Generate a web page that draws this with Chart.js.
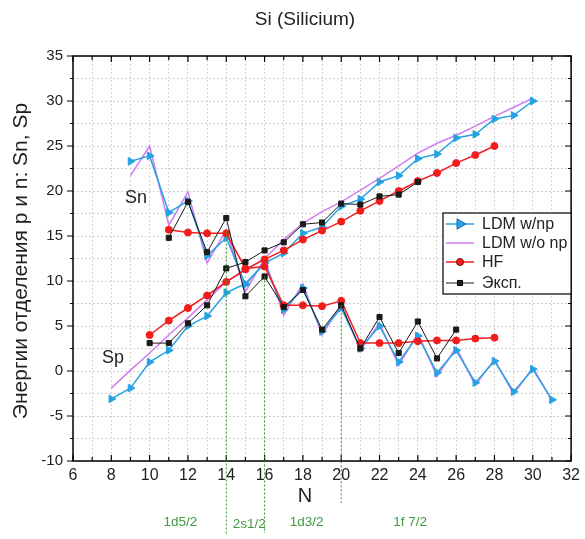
<!DOCTYPE html>
<html>
<head>
<meta charset="utf-8">
<script src="https://cdn.jsdelivr.net/npm/chart.js@4.4.1/dist/chart.umd.min.js"></script>
<style>
  body { margin: 0; background: #fff; }
  #wrap { width: 585px; height: 539px; }
</style>
</head>
<body>
<div id="wrap"><canvas id="myChart" width="585" height="539"></canvas></div>
<script>
// neutron numbers and separation energies
const ldmNpSnN = [9, 10, 11, 12, 13, 14, 15, 16, 17, 18, 19, 20, 21, 22, 23, 24, 25, 26, 27, 28, 29, 30, 31];
const ldmNpSn = [23.3, 23.9, 17.6, 18.9, 12.8, 14.8, 9.6, 12.0, 6.8, 9.2, 4.4, 7.0, 2.5, 5.0, 1.0, 3.9, -0.2, 2.3, -1.3, 1.1, -2.3, 0.2, -3.2];
const ldmNpSpN = [8, 9, 10, 11, 12, 13, 14, 15, 16, 17, 18, 19, 20, 21, 22, 23, 24, 25, 26, 27, 28, 29, 30];
const ldmNpSp = [-3.1, -1.9, 1.0, 2.3, 5.0, 6.1, 8.7, 9.7, 12.0, 13.1, 15.3, 16.0, 18.3, 19.1, 21.0, 21.7, 23.6, 24.1, 25.9, 26.3, 28.0, 28.4, 30.0];

const ldmSnN = [9, 10, 11, 12, 13, 14, 15, 16, 17, 18, 19, 20, 21, 22, 23, 24, 25, 26, 27, 28, 29, 30, 31];
const ldmSn = [21.7, 25.0, 16.2, 19.9, 12.0, 15.7, 8.8, 12.5, 6.2, 9.7, 4.0, 7.4, 2.3, 5.3, 0.6, 4.2, -0.6, 2.6, -1.6, 1.3, -2.6, 0.4, -3.3];
const ldmSpN = [8, 9, 10, 11, 12, 13, 14, 15, 16, 17, 18, 19, 20, 21, 22, 23, 24, 25, 26, 27, 28, 29, 30];
const ldmSp = [-1.9, 0.1, 2.0, 4.0, 5.9, 7.9, 9.9, 11.2, 12.5, 14.6, 16.4, 17.7, 18.8, 20.1, 21.4, 22.8, 24.2, 25.3, 26.2, 27.2, 28.3, 29.3, 30.3];

const hfSnN = [11, 12, 13, 14, 15, 16, 17, 18, 19, 20, 21, 22, 23, 24, 25, 26, 27, 28];
const hfSn = [15.7, 15.4, 15.3, 15.3, 11.4, 11.6, 7.3, 7.3, 7.2, 7.8, 3.1, 3.1, 3.1, 3.3, 3.4, 3.4, 3.6, 3.7];
const hfSpN = [10, 11, 12, 13, 14, 15, 16, 17, 18, 19, 20, 21, 22, 23, 24, 25, 26, 27, 28];
const hfSp = [4.0, 5.6, 7.0, 8.4, 9.9, 11.3, 12.4, 13.4, 14.6, 15.6, 16.6, 17.8, 18.9, 20.0, 21.1, 22.0, 23.1, 24.0, 25.0];

const expSnN = [11, 12, 13, 14, 15, 16, 17, 18, 19, 20, 21, 22, 23, 24, 25, 26];
const expSn = [14.8, 18.8, 13.2, 17.0, 8.3, 10.5, 7.1, 9.0, 4.6, 7.3, 2.5, 6.0, 2.0, 5.5, 1.4, 4.6];
const expSpN = [10, 11, 12, 13, 14, 15, 16, 17, 18, 19, 20, 21, 22, 23, 24];
const expSp = [3.1, 3.1, 5.3, 7.3, 11.4, 12.1, 13.4, 14.3, 16.3, 16.5, 18.6, 18.5, 19.4, 19.6, 21.0];

// shell closures (green dotted markers) and their labels
const shellN = [14, 16, 20];
const shellTop = [15.5, 10.5, 7.3];
const shellLabels = ['1d5/2', '2s1/2', '1d3/2', '1f 7/2'];
const shellLabelN = [11.6, 15.2, 18.2, 23.6];

const FONT = '"Liberation Sans", Arial, sans-serif';
const BLUE = '#27a2e2';
const VIOLET = '#d37cf2';
const RED = '#f21c1c';
const BLACK = '#1a1a1a';

function toPoints(ns, vals) {
  return ns.map((n, i) => ({ x: n, y: vals[i] }));
}

function ldmNpSet(ns, vals, legend) {
  return {
    label: 'LDM w/np', legend: legend, data: toPoints(ns, vals),
    borderColor: BLUE, backgroundColor: BLUE, borderWidth: 1.5,
    pointStyle: 'triangle', rotation: 90, pointRadius: 4.5, pointBorderWidth: 1
  };
}
function ldmSet(ns, vals, legend) {
  return {
    label: 'LDM w/o np', legend: legend, data: toPoints(ns, vals),
    borderColor: VIOLET, backgroundColor: VIOLET, borderWidth: 1.5, pointRadius: 0
  };
}
function hfSet(ns, vals, legend) {
  return {
    label: 'HF', legend: legend, data: toPoints(ns, vals),
    borderColor: RED, backgroundColor: RED, borderWidth: 1.5,
    pointStyle: 'circle', pointRadius: 3.5, pointBorderWidth: 1
  };
}
function expSet(ns, vals, legend) {
  return {
    label: 'Эксп.', legend: legend, data: toPoints(ns, vals),
    borderColor: BLACK, backgroundColor: BLACK, borderWidth: 1,
    pointStyle: 'rect', pointRadius: 3.6, pointBorderWidth: 1
  };
}

const datasets = [
  expSet(expSnN, expSn, true), expSet(expSpN, expSp, false),
  hfSet(hfSnN, hfSn, true), hfSet(hfSpN, hfSp, false),
  ldmNpSet(ldmNpSnN, ldmNpSn, true), ldmNpSet(ldmNpSpN, ldmNpSp, false),
  ldmSet(ldmSnN, ldmSn, true), ldmSet(ldmSpN, ldmSp, false)
];
const legendOrder = ['LDM w/np', 'LDM w/o np', 'HF', 'Эксп.'];

// frame, ticks, annotations, legend
const decor = {
  id: 'decor',
  afterDraw(chart) {
    const ctx = chart.ctx;
    const a = chart.chartArea;
    const xs = chart.scales.x;
    const ys = chart.scales.y;
    ctx.save();

    // ticks
    ctx.strokeStyle = '#000';
    ctx.lineWidth = 1.2;
    for (let n = 6; n <= 32; n++) {
      const x = xs.getPixelForValue(n);
      const len = n % 2 === 0 ? 6 : 4;
      ctx.beginPath();
      ctx.moveTo(x, a.top); ctx.lineTo(x, a.top + len);
      ctx.moveTo(x, a.bottom); ctx.lineTo(x, a.bottom - len);
      ctx.stroke();
    }
    for (let v = -10; v <= 35; v += 2.5) {
      const y = ys.getPixelForValue(v);
      const len = v % 5 === 0 ? 6 : 3;
      ctx.beginPath();
      ctx.moveTo(a.left, y); ctx.lineTo(a.left - len, y);
      ctx.moveTo(a.right, y); ctx.lineTo(a.right - len, y);
      ctx.stroke();
    }
    ctx.lineWidth = 1.5;
    ctx.strokeRect(a.left, a.top, a.right - a.left, a.bottom - a.top);

    // shell closure lines
    ctx.strokeStyle = '#2e9a2e';
    ctx.lineWidth = 1;
    ctx.setLineDash([2, 2]);
    const ends = [535, 533, 503];
    shellN.forEach((n, i) => {
      const x = xs.getPixelForValue(n);
      ctx.beginPath();
      ctx.moveTo(x, ys.getPixelForValue(shellTop[i]));
      ctx.lineTo(x, ends[i]);
      ctx.stroke();
    });
    ctx.setLineDash([]);

    ctx.fillStyle = '#3f9a3f';
    ctx.font = '13.5px ' + FONT;
    ctx.textAlign = 'center';
    ctx.textBaseline = 'middle';
    shellLabels.forEach((t, i) => {
      ctx.fillText(t, xs.getPixelForValue(shellLabelN[i]), i === 1 ? 524 : 522);
    });

    // titles
    ctx.fillStyle = '#222';
    ctx.font = '19px ' + FONT;
    ctx.fillText('Si (Silicium)', 305, 20);
    ctx.font = '20px ' + FONT;
    ctx.fillText('N', 305, 496);
    ctx.font = '18px ' + FONT;
    ctx.fillText('Sn', 136, 198);
    ctx.fillText('Sp', 113, 358);
    ctx.save();
    ctx.translate(21, 261);
    ctx.rotate(-Math.PI / 2);
    ctx.font = '21px ' + FONT;
    ctx.fillText('Энергии отделения p и n: Sn, Sp', 0, 0);
    ctx.restore();

    // legend
    const lx = 443, ly = 213, lw = a.right - 443, lh = 81;
    ctx.fillStyle = '#fff';
    ctx.fillRect(lx, ly, lw, lh);
    ctx.strokeStyle = '#000';
    ctx.lineWidth = 1.2;
    ctx.strokeRect(lx, ly, lw, lh);
    const rows = [224, 243, 262, 283];
    ctx.font = '16px ' + FONT;
    ctx.textAlign = 'left';
    legendOrder.forEach((label, i) => {
      const ds = chart.data.datasets.find(d => d.label === label && d.legend);
      const y = rows[i];
      ctx.strokeStyle = ds.borderColor;
      ctx.lineWidth = ds.borderWidth;
      ctx.beginPath();
      ctx.moveTo(446, y); ctx.lineTo(474, y);
      ctx.stroke();
      if (ds.pointRadius > 0) {
        ctx.fillStyle = ds.backgroundColor;
        ctx.strokeStyle = label === 'LDM w/np' ? '#1b6f9c' : (label === 'HF' ? '#7a0a0a' : '#000');
        ctx.lineWidth = 1;
        Chart.helpers.drawPoint(ctx, {
          pointStyle: ds.pointStyle, rotation: ds.rotation || 0,
          radius: ds.pointRadius + (label === 'LDM w/np' ? 1.5 : 0), borderWidth: 1
        }, 460, y);
      }
      ctx.fillStyle = '#222';
      ctx.fillText(label, 482, y + 1);
    });

    ctx.restore();
  }
};

const config = {
  type: 'line',
  data: { datasets: datasets },
  options: {
    responsive: false,
    animation: false,
    layout: { padding: { top: 56, right: 11, left: 0, bottom: 0 } },
    plugins: { legend: { display: false }, tooltip: { enabled: false } },
    scales: {
      x: {
        type: 'linear', min: 6, max: 32,
        afterFit: (s) => { s.height = 78; },
        ticks: {
          stepSize: 1, autoSkip: false, maxRotation: 0, padding: 5,
          color: '#222', font: { size: 16, family: FONT },
          callback: (v) => (v % 2 === 0 ? v : '')
        },
        grid: { color: '#d2d2d2', drawTicks: false, lineWidth: 1 },
        border: { display: false, dash: [2, 2] }
      },
      y: {
        min: -10, max: 35,
        afterFit: (s) => { s.width = 73; },
        ticks: {
          stepSize: 2.5, autoSkip: false, padding: 10,
          color: '#222', font: { size: 15, family: FONT },
          callback: (v) => (v % 5 === 0 ? v : '')
        },
        grid: { color: '#d2d2d2', drawTicks: false, lineWidth: 1 },
        border: { display: false, dash: [2, 2] }
      }
    }
  },
  plugins: [decor]
};

const myChart = new Chart(document.getElementById('myChart'), config);
</script>
</body>
</html>
